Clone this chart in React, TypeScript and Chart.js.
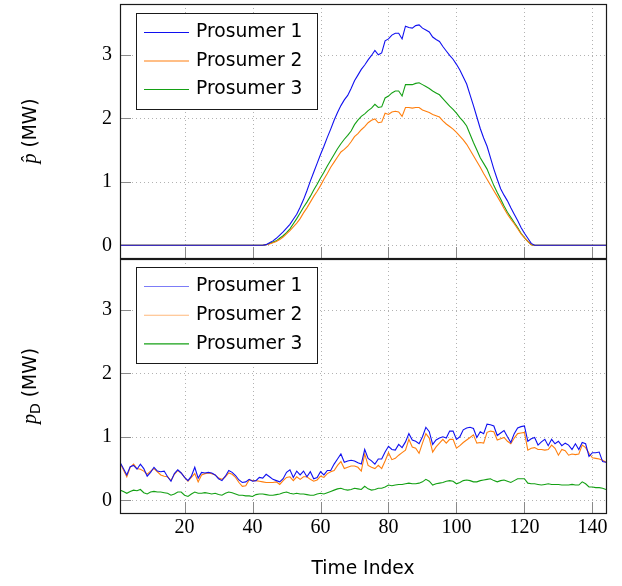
import React, { useEffect, useRef } from 'react';
import { Chart, registerables } from 'chart.js';

Chart.register(...registerables);

// ---------- data ----------
const SERIES_LABELS = ['Prosumer 1', 'Prosumer 2', 'Prosumer 3'];
const X_TICKS = [20, 40, 60, 80, 100, 120, 140];
const Y_TICKS = [0, 1, 2, 3];

// Top panel: PV forecast p-hat (MW), time index 1..144
const pHat1 = [
  0, 0, 0, 0, 0, 0, 0, 0, 0, 0, 0, 0,
  0, 0, 0, 0, 0, 0, 0, 0, 0, 0, 0, 0,
  0, 0, 0, 0, 0, 0, 0, 0, 0, 0, 0, 0,
  0, 0, 0, 0, 0, 0, 0, 0.01, 0.04, 0.07, 0.11, 0.16,
  0.21, 0.27, 0.33, 0.41, 0.49, 0.60, 0.72, 0.86, 1.01, 1.15, 1.29, 1.43,
  1.56, 1.70, 1.83, 1.97, 2.09, 2.20, 2.29, 2.36, 2.47, 2.59, 2.68, 2.77,
  2.84, 2.92, 2.99, 3.07, 3.00, 3.03, 3.22, 3.25, 3.31, 3.34, 3.34, 3.25,
  3.45, 3.43, 3.42, 3.46, 3.47, 3.42, 3.39, 3.36, 3.28, 3.24, 3.21, 3.13,
  3.06, 2.99, 2.93, 2.85, 2.76, 2.65, 2.54, 2.37, 2.20, 2.02, 1.84, 1.69,
  1.56, 1.38, 1.20, 1.04, 0.89, 0.79, 0.70, 0.59, 0.49, 0.39, 0.28, 0.19,
  0.11, 0.03, 0, 0, 0, 0, 0, 0, 0, 0, 0, 0,
  0, 0, 0, 0, 0, 0, 0, 0, 0, 0, 0, 0,
];
const pHat2 = [
  0, 0, 0, 0, 0, 0, 0, 0, 0, 0, 0, 0,
  0, 0, 0, 0, 0, 0, 0, 0, 0, 0, 0, 0,
  0, 0, 0, 0, 0, 0, 0, 0, 0, 0, 0, 0,
  0, 0, 0, 0, 0, 0, 0, 0.01, 0.02, 0.04, 0.06, 0.09,
  0.13, 0.18, 0.23, 0.29, 0.35, 0.42, 0.51, 0.59, 0.68, 0.77, 0.85, 0.94,
  1.04, 1.13, 1.23, 1.31, 1.39, 1.47, 1.51, 1.56, 1.63, 1.71, 1.76, 1.82,
  1.87, 1.93, 1.97, 1.99, 1.93, 1.94, 2.08, 2.06, 2.10, 2.11, 2.10, 2.03,
  2.17, 2.17, 2.16, 2.17, 2.17, 2.13, 2.11, 2.09, 2.06, 2.04, 2.02, 1.96,
  1.91, 1.87, 1.83, 1.78, 1.72, 1.66, 1.59, 1.50, 1.41, 1.32, 1.23, 1.13,
  1.04, 0.95, 0.86, 0.77, 0.68, 0.58, 0.49, 0.41, 0.34, 0.26, 0.18, 0.12,
  0.06, 0.01, 0, 0, 0, 0, 0, 0, 0, 0, 0, 0,
  0, 0, 0, 0, 0, 0, 0, 0, 0, 0, 0, 0,
];
const pHat3 = [
  0, 0, 0, 0, 0, 0, 0, 0, 0, 0, 0, 0,
  0, 0, 0, 0, 0, 0, 0, 0, 0, 0, 0, 0,
  0, 0, 0, 0, 0, 0, 0, 0, 0, 0, 0, 0,
  0, 0, 0, 0, 0, 0, 0, 0.01, 0.03, 0.05, 0.07, 0.11,
  0.15, 0.20, 0.26, 0.34, 0.42, 0.51, 0.60, 0.68, 0.77, 0.87, 0.96, 1.06,
  1.15, 1.25, 1.34, 1.43, 1.52, 1.60, 1.67, 1.73, 1.80, 1.90, 1.97, 2.03,
  2.07, 2.12, 2.16, 2.22, 2.17, 2.18, 2.32, 2.35, 2.40, 2.43, 2.43, 2.35,
  2.53, 2.53, 2.53, 2.55, 2.56, 2.53, 2.50, 2.47, 2.43, 2.40, 2.37, 2.31,
  2.25, 2.19, 2.14, 2.08, 2.01, 1.95, 1.88, 1.75, 1.62, 1.50, 1.38, 1.29,
  1.20, 1.07, 0.94, 0.83, 0.73, 0.62, 0.52, 0.44, 0.36, 0.28, 0.19, 0.12,
  0.06, 0.01, 0, 0, 0, 0, 0, 0, 0, 0, 0, 0,
  0, 0, 0, 0, 0, 0, 0, 0, 0, 0, 0, 0,
];

// Bottom panel: demand p_D (MW)
const pD1 = [
  0.60, 0.50, 0.40, 0.53, 0.55, 0.49, 0.57, 0.50, 0.38, 0.44, 0.52, 0.46,
  0.45, 0.46, 0.37, 0.30, 0.42, 0.48, 0.43, 0.36, 0.31, 0.38, 0.52, 0.35,
  0.44, 0.43, 0.44, 0.43, 0.40, 0.34, 0.31, 0.38, 0.47, 0.44, 0.39, 0.32,
  0.28, 0.29, 0.33, 0.30, 0.31, 0.36, 0.35, 0.41, 0.37, 0.33, 0.31, 0.29,
  0.34, 0.44, 0.48, 0.36, 0.46, 0.40, 0.46, 0.37, 0.45, 0.34, 0.36, 0.45,
  0.40, 0.47, 0.47, 0.57, 0.65, 0.73, 0.60, 0.62, 0.63, 0.62, 0.59, 0.57,
  0.80, 0.66, 0.62, 0.57, 0.65, 0.65, 0.76, 0.85, 0.80, 0.79, 0.88, 0.83,
  0.92, 1.05, 0.95, 0.93, 0.89, 1.00, 1.15, 1.08, 0.88, 0.95, 0.98, 1.00,
  0.98, 1.09, 1.09, 0.96, 1.00, 1.11, 1.14, 1.15, 1.13, 0.99, 1.08, 1.05,
  1.20, 1.19, 1.17, 1.02, 1.06, 1.10, 1.00, 0.91, 1.05, 1.14, 1.16, 1.17,
  0.93, 0.97, 0.99, 0.87, 0.92, 0.96, 0.86, 0.96, 0.89, 0.93, 0.86, 0.90,
  0.87, 0.80, 0.89, 0.80, 0.91, 0.89, 0.69, 0.75, 0.75, 0.76, 0.61, 0.60,
];
const pD2 = [
  0.59, 0.48, 0.37, 0.52, 0.57, 0.50, 0.49, 0.46, 0.41, 0.46, 0.50, 0.45,
  0.40, 0.38, 0.37, 0.31, 0.41, 0.47, 0.43, 0.36, 0.30, 0.36, 0.42, 0.29,
  0.40, 0.42, 0.43, 0.42, 0.40, 0.35, 0.33, 0.37, 0.43, 0.41, 0.36, 0.28,
  0.22, 0.23, 0.32, 0.31, 0.31, 0.30, 0.29, 0.28, 0.28, 0.28, 0.29, 0.25,
  0.31, 0.36, 0.37, 0.31, 0.37, 0.33, 0.37, 0.37, 0.33, 0.30, 0.32, 0.38,
  0.36, 0.42, 0.45, 0.47, 0.55, 0.61, 0.50, 0.52, 0.54, 0.54, 0.52, 0.46,
  0.73, 0.55, 0.52, 0.50, 0.55, 0.50, 0.62, 0.75, 0.64, 0.66, 0.71, 0.75,
  0.79, 0.96, 0.84, 0.82, 0.74, 0.90, 1.05, 0.98, 0.76, 0.84, 0.90, 0.96,
  0.90, 0.96, 0.96, 0.82, 0.86, 0.91, 0.95, 0.99, 1.03, 0.90, 0.91, 0.90,
  1.07, 1.09, 1.08, 0.95, 0.97, 0.99, 0.93, 0.89, 0.98, 1.05, 1.06, 1.07,
  0.79, 0.82, 0.83, 0.80, 0.80, 0.79, 0.80, 0.87, 0.82, 0.71, 0.80, 0.78,
  0.71, 0.73, 0.72, 0.73, 0.87, 0.83, 0.74, 0.67, 0.66, 0.65, 0.63, 0.60,
];
const pD3 = [
  0.16, 0.14, 0.11, 0.14, 0.16, 0.15, 0.17, 0.12, 0.10, 0.13, 0.14, 0.13,
  0.13, 0.12, 0.11, 0.08, 0.10, 0.13, 0.13, 0.08, 0.06, 0.10, 0.13, 0.11,
  0.11, 0.12, 0.11, 0.10, 0.11, 0.09, 0.08, 0.11, 0.13, 0.12, 0.10, 0.08,
  0.08, 0.07, 0.07, 0.06, 0.09, 0.10, 0.10, 0.09, 0.08, 0.08, 0.09, 0.10,
  0.12, 0.13, 0.11, 0.10, 0.11, 0.10, 0.10, 0.09, 0.08, 0.08, 0.10, 0.11,
  0.10, 0.12, 0.14, 0.16, 0.18, 0.19, 0.17, 0.16, 0.17, 0.19, 0.18, 0.17,
  0.22, 0.18, 0.16, 0.17, 0.19, 0.19, 0.21, 0.24, 0.23, 0.24, 0.25, 0.25,
  0.26, 0.27, 0.26, 0.26, 0.27, 0.29, 0.33, 0.30, 0.24, 0.26, 0.27, 0.28,
  0.30, 0.31, 0.30, 0.26, 0.28, 0.31, 0.32, 0.31, 0.29, 0.29, 0.31, 0.32,
  0.33, 0.34, 0.31, 0.29, 0.31, 0.32, 0.30, 0.28, 0.31, 0.34, 0.34, 0.34,
  0.27, 0.26, 0.26, 0.25, 0.24, 0.25, 0.26, 0.25, 0.25, 0.25, 0.24, 0.24,
  0.24, 0.25, 0.24, 0.24, 0.29, 0.26, 0.21, 0.21, 0.20, 0.20, 0.19, 0.17,
];

// ---------- styling ----------
const W = 622;
const H = 586;
const COLORS = ['#1010f0', '#ff7f0e', '#14a014'];
const SANS = "'DejaVu Sans', sans-serif";
const SERIF = "'Liberation Serif', serif";

const toPoints = (arr: number[]) => arr.map((v, i) => ({ x: i + 1, y: v }));

const panelPlugin = {
  id: 'panel',
  beforeDatasetsDraw(chart: any) {
    const { ctx, chartArea: a, scales } = chart;
    ctx.save();
    // dotted grid
    ctx.strokeStyle = 'rgba(0,0,0,0.3)';
    ctx.lineWidth = 1;
    ctx.setLineDash([1, 3]);
    for (const v of X_TICKS) {
      const x = Math.round(scales.x.getPixelForValue(v)) + 0.5;
      ctx.beginPath();
      ctx.moveTo(x, a.top);
      ctx.lineTo(x, a.bottom);
      ctx.stroke();
    }
    for (const v of Y_TICKS) {
      const y = Math.round(scales.y.getPixelForValue(v)) + 0.5;
      ctx.beginPath();
      ctx.moveTo(a.left, y);
      ctx.lineTo(a.right, y);
      ctx.stroke();
    }
    // inward tick marks
    ctx.setLineDash([]);
    ctx.strokeStyle = '#8a8a8a';
    for (const v of X_TICKS) {
      const x = Math.round(scales.x.getPixelForValue(v)) + 0.5;
      ctx.beginPath();
      ctx.moveTo(x, a.bottom);
      ctx.lineTo(x, a.bottom - 11);
      ctx.stroke();
    }
    for (const v of Y_TICKS) {
      const y = Math.round(scales.y.getPixelForValue(v)) + 0.5;
      ctx.beginPath();
      ctx.moveTo(a.left, y);
      ctx.lineTo(a.left + 11, y);
      ctx.stroke();
    }
    ctx.restore();
  },
  afterDraw(chart: any, _args: any, opts: any) {
    const { ctx, chartArea: a } = chart;
    ctx.save();
    // frame
    ctx.strokeStyle = '#1a1a1a';
    ctx.lineWidth = 1.2;
    ctx.strokeRect(a.left + 0.5, a.top + 0.5, a.right - a.left, a.bottom - a.top);

    // legend
    const lx = a.left + 16;
    const ly = a.top + opts.legendTop;
    const lw = 181;
    const lh = 96;
    ctx.fillStyle = '#fff';
    ctx.fillRect(lx, ly, lw, lh);
    ctx.strokeStyle = '#1a1a1a';
    ctx.lineWidth = 1;
    ctx.strokeRect(lx + 0.5, ly + 0.5, lw, lh);
    chart.data.datasets.forEach((ds: any, k: number) => {
      const ry = ly + 19.5 + k * opts.legendStep;
      ctx.globalAlpha = opts.legendAlpha[k];
      ctx.strokeStyle = ds.borderColor;
      ctx.lineWidth = 1.1;
      ctx.beginPath();
      ctx.moveTo(lx + 8, ry);
      ctx.lineTo(lx + 53, ry);
      ctx.stroke();
      ctx.globalAlpha = 1;
      ctx.fillStyle = '#000';
      ctx.font = `18.7px ${SANS}`;
      ctx.textBaseline = 'middle';
      ctx.textAlign = 'left';
      ctx.fillText(ds.label, lx + 60, ry);
    });

    // rotated y-axis title
    const pieces = opts.yTitle as { t: string; f: string; dy: number }[];
    const cx = 29;
    const cy = (a.top + a.bottom) / 2;
    ctx.translate(cx, cy);
    ctx.rotate(-Math.PI / 2);
    ctx.textBaseline = 'alphabetic';
    ctx.textAlign = 'left';
    let total = 0;
    for (const p of pieces) {
      ctx.font = p.f;
      total += ctx.measureText(p.t).width;
    }
    let x = -total / 2;
    ctx.fillStyle = '#000';
    for (const p of pieces) {
      ctx.font = p.f;
      ctx.fillText(p.t, x, 6.7 + p.dy);
      x += ctx.measureText(p.t).width;
    }
    ctx.restore();
  },
};

function makeConfig(isTop: boolean): any {
  const values = isTop ? [pHat1, pHat2, pHat3] : [pD1, pD2, pD3];
  return {
    type: 'line',
    data: {
      datasets: values.map((arr, k) => ({
        label: SERIES_LABELS[k],
        data: toPoints(arr),
        borderColor: COLORS[k],
        borderWidth: 1.1,
        pointRadius: 0,
        tension: 0,
        fill: false,
      })),
    },
    plugins: [panelPlugin],
    options: {
      responsive: false,
      animation: false,
      devicePixelRatio: 1,
      layout: { padding: { left: 0, right: 16, top: isTop ? 4 : 259, bottom: 0 } },
      plugins: {
        legend: { display: false },
        tooltip: { enabled: false },
        panel: {
          legendTop: isTop ? 9 : 8,
          legendStep: isTop ? 28.5 : 28.7,
          legendAlpha: isTop ? [1, 1, 1] : [0.55, 0.55, 1],
          yTitle: isTop
            ? [
                { t: 'p\u0302', f: `italic 20px ${SERIF}`, dy: 0 },
                { t: ' (MW)', f: `18.7px ${SANS}`, dy: 0 },
              ]
            : [
                { t: 'p', f: `italic 20px ${SERIF}`, dy: 0 },
                { t: 'D', f: `14px ${SANS}`, dy: 4 },
                { t: ' (MW)', f: `18.7px ${SANS}`, dy: 0 },
              ],
        },
      },
      scales: {
        x: {
          type: 'linear',
          position: 'bottom',
          min: 1,
          max: 144,
          afterBuildTicks: (s: any) => {
            s.ticks = X_TICKS.map((v) => ({ value: v }));
          },
          afterFit: (s: any) => {
            s.height = isTop ? H - 258 : H - 513;
            s.paddingLeft = 0;
            s.paddingRight = 0;
          },
          grid: { display: false, drawTicks: false },
          border: { display: false },
          ticks: {
            display: !isTop,
            padding: 3,
            color: '#000',
            maxRotation: 0,
            autoSkip: false,
            font: { family: SERIF, size: 20 },
            callback: (v: number) => String(v),
          },
          title: {
            display: !isTop,
            text: 'Time Index',
            color: '#000',
            font: { family: SANS, size: 18.7 },
            padding: { top: 0, bottom: 6 },
          },
        },
        y: {
          type: 'linear',
          min: -0.2,
          max: 3.8,
          afterBuildTicks: (s: any) => {
            s.ticks = Y_TICKS.map((v) => ({ value: v }));
          },
          afterFit: (s: any) => {
            s.width = 120;
            s.paddingTop = 0;
            s.paddingBottom = 0;
          },
          grid: { display: false, drawTicks: false },
          border: { display: false },
          ticks: {
            padding: 8,
            color: '#000',
            font: { family: SERIF, size: 20 },
            callback: (v: number) => String(v),
          },
        },
      },
    },
  };
}

export default function App() {
  const topRef = useRef<HTMLCanvasElement>(null);
  const botRef = useRef<HTMLCanvasElement>(null);

  useEffect(() => {
    const c1 = new Chart(topRef.current as HTMLCanvasElement, makeConfig(true));
    const c2 = new Chart(botRef.current as HTMLCanvasElement, makeConfig(false));
    return () => {
      c1.destroy();
      c2.destroy();
    };
  }, []);

  const cs: React.CSSProperties = { position: 'absolute', left: 0, top: 0, width: W, height: H };
  return (
    <div style={{ position: 'absolute', left: 0, top: 0, width: W, height: H, background: '#fff' }}>
      <canvas ref={topRef} width={W} height={H} style={cs} />
      <canvas ref={botRef} width={W} height={H} style={cs} />
    </div>
  );
}
